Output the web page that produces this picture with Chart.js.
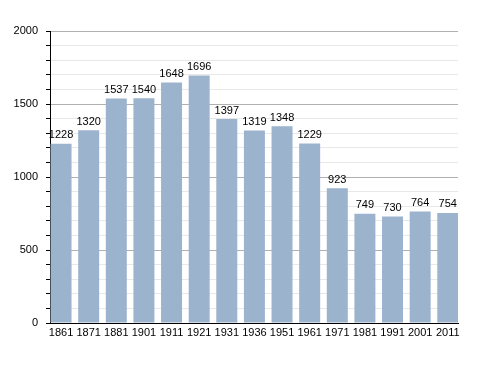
<!DOCTYPE html>
<html>
<head>
<meta charset="utf-8">
<script src="https://cdn.jsdelivr.net/npm/chart.js@4"></script>
<style>
  html, body { margin: 0; padding: 0; background: #fff; }
  #wrap { width: 488px; height: 373px; }
</style>
</head>
<body>
<div id="wrap"><canvas id="chart" width="488" height="373"></canvas></div>
<script>
const years = ['1861', '1871', '1881', '1901', '1911', '1921', '1931', '1936', '1951', '1961', '1971', '1981', '1991', '2001', '2011'];
const population = [1228, 1320, 1537, 1540, 1648, 1696, 1397, 1319, 1348, 1229, 923, 749, 730, 764, 754];
const yMin = 0;
const yMax = 2000;
const labelStep = 500;
const minorStep = 100;

const FONT = '"Liberation Sans", Arial, sans-serif';

// write each value above its bar
const valueLabels = {
    id: 'valueLabels',
    afterDatasetsDraw(chart) {
        const ctx = chart.ctx;
        const meta = chart.getDatasetMeta(0);
        ctx.save();
        ctx.font = '11px ' + FONT;
        ctx.fillStyle = '#000';
        ctx.textAlign = 'center';
        ctx.textBaseline = 'bottom';
        meta.data.forEach((bar, i) => {
            ctx.fillText(String(population[i]), bar.x, bar.y - 3);
        });
        ctx.restore();
    }
};

new Chart(document.getElementById('chart'), {
    type: 'bar',
    data: {
        // positions 0..n-1 on a linear axis, so the outer bars sit on the plot edges
        labels: years.map((y, i) => i),
        datasets: [{
            data: population,
            backgroundColor: '#9cb3ce',
            borderWidth: 0,
            categoryPercentage: 1,
            barPercentage: 0.76,
        }]
    },
    options: {
        responsive: false,
        animation: false,
        devicePixelRatio: 1,
        layout: { padding: { top: 31, right: 30, bottom: 0, left: 0 } },
        plugins: {
            legend: { display: false },
            tooltip: { enabled: false },
        },
        scales: {
            x: {
                type: 'linear',
                min: -0.4,
                max: years.length - 1 + 0.37,
                offset: false,
                grid: { display: false, drawTicks: false, offset: false },
                border: { display: true, color: '#000', width: 1 },
                afterBuildTicks(scale) {
                    scale.ticks = years.map((y, i) => ({ value: i }));
                },
                ticks: {
                    autoSkip: false,
                    maxRotation: 0,
                    color: '#000',
                    padding: 3,
                    font: { family: FONT, size: 11 },
                    callback: (v) => years[v] || '',
                },
                afterFit(scale) { scale.height = 50; },
            },
            y: {
                min: yMin,
                max: yMax,
                border: { display: true, color: '#000', width: 1 },
                grid: {
                    drawOnChartArea: true,
                    drawTicks: true,
                    tickLength: 4,
                    tickColor: '#000',
                    color: (c) => c.tick && c.tick.value % labelStep === 0 ? '#b0b0b0' : '#e8e8e8',
                },
                ticks: {
                    stepSize: minorStep,
                    autoSkip: false,
                    color: '#000',
                    padding: 8,
                    font: { family: FONT, size: 11 },
                    callback: (v) => v % labelStep === 0 ? String(v) : '',
                },
                afterFit(scale) { scale.width = 50; },
            }
        }
    },
    plugins: [valueLabels]
});
</script>
</body>
</html>
